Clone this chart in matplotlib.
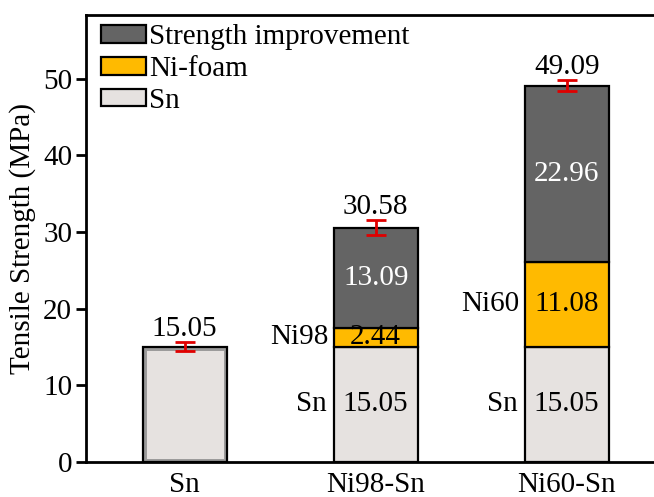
import matplotlib
matplotlib.use("Agg")
import matplotlib.pyplot as plt
import numpy as np

plt.rcParams['font.family'] = ['Liberation Serif', 'DejaVu Serif']

# Data
categories = ["Sn", "Ni98-Sn", "Ni60-Sn"]
sn_part = [15.05, 15.05, 15.05]
foam_part = [0.0, 2.44, 11.08]
improvement = [0.0, 13.09, 22.96]
totals = [15.05, 30.58, 49.09]
errors = [0.6, 1.0, 0.7]
foam_names = ["", "Ni98", "Ni60"]

c_dark = "#646464"
c_yellow = "#FFBA00"
c_light = "#E6E2E0"

fig = plt.figure(figsize=(6.54, 4.97), dpi=100)
ax = fig.add_axes([86 / 654, (497 - 462) / 497, 580 / 654, (462 - 15) / 497])

x = np.arange(len(categories))
w = 0.44
sn = np.array(sn_part)
fo = np.array(foam_part)
im = np.array(improvement)

# First bar: plain Sn with a grey inner rim
rim = ax.bar(x[0], sn[0], w, color=c_light, edgecolor="#9a9a9a", linewidth=5, zorder=2)
for p in rim:
    p.set_clip_path(p)
ax.bar(x[0], sn[0], w, facecolor="none", edgecolor="black", linewidth=1.6, zorder=3)

# Stacked bars for the composites
b_sn = ax.bar(x[1:], sn[1:], w, color=c_light, edgecolor="black", linewidth=1.6, zorder=2, label="Sn")
b_fo = ax.bar(x[1:], fo[1:], w, bottom=sn[1:], color=c_yellow, edgecolor="black", linewidth=1.6,
              zorder=2, label="Ni-foam")
b_im = ax.bar(x[1:], im[1:], w, bottom=sn[1:] + fo[1:], color=c_dark, edgecolor="black",
              linewidth=1.6, zorder=2, label="Strength improvement")

# Error bars
ax.errorbar(x, totals, yerr=errors, fmt="none", ecolor="#E00000", elinewidth=2,
            capsize=7, capthick=2, zorder=4)

fs = 21
# Totals above bars
for xi, t, e in zip(x, totals, errors):
    ax.annotate(f"{t:.2f}", (xi, t + e), xytext=(0, 0), textcoords="offset points",
                ha="center", va="bottom", fontsize=fs)

# Segment values inside the stacked bars and names on the left
for i in range(1, 3):
    xi = x[i]
    ax.text(xi, sn[i] / 2, f"{sn[i]:.2f}", ha="center", va="center", fontsize=fs, zorder=5)
    ax.text(xi, sn[i] + fo[i] / 2, f"{fo[i]:.2f}", ha="center", va="center", fontsize=fs, zorder=5)
    ax.text(xi, sn[i] + fo[i] + im[i] / 2, f"{im[i]:.2f}", ha="center", va="center",
            fontsize=fs, color="white", zorder=5)
    ax.annotate("Sn", (xi - w / 2, sn[i] / 2), xytext=(-5, 0), textcoords="offset points",
                ha="right", va="center", fontsize=fs)
    ax.annotate(foam_names[i], (xi - w / 2, sn[i] + fo[i] / 2), xytext=(-4, 0),
                textcoords="offset points", ha="right", va="center", fontsize=fs)

ax.set_xlim(-0.517, 2.52)
ax.set_ylim(0, 58.3)
ax.set_yticks([0, 10, 20, 30, 40, 50])
ax.set_xticks(x)
ax.set_xticklabels(categories)
ax.tick_params(axis="y", direction="out", length=7, width=2, labelsize=fs, pad=3)
ax.tick_params(axis="x", length=0, labelsize=fs, pad=7)
ax.set_ylabel("Tensile Strength (MPa)", fontsize=fs, labelpad=5)

for s in ["left", "bottom", "top"]:
    ax.spines[s].set_linewidth(2)
ax.spines["right"].set_visible(False)

handles = [b_im, b_fo, b_sn]
leg = ax.legend(handles, ["Strength improvement", "Ni-foam", "Sn"], loc="upper left",
                frameon=False, fontsize=fs, handlelength=1.55, handleheight=0.55,
                handletextpad=0.12, labelspacing=0.2, borderaxespad=0.1,
                bbox_to_anchor=(0.0, 1.012))

fig.savefig("out.png", dpi=100)
